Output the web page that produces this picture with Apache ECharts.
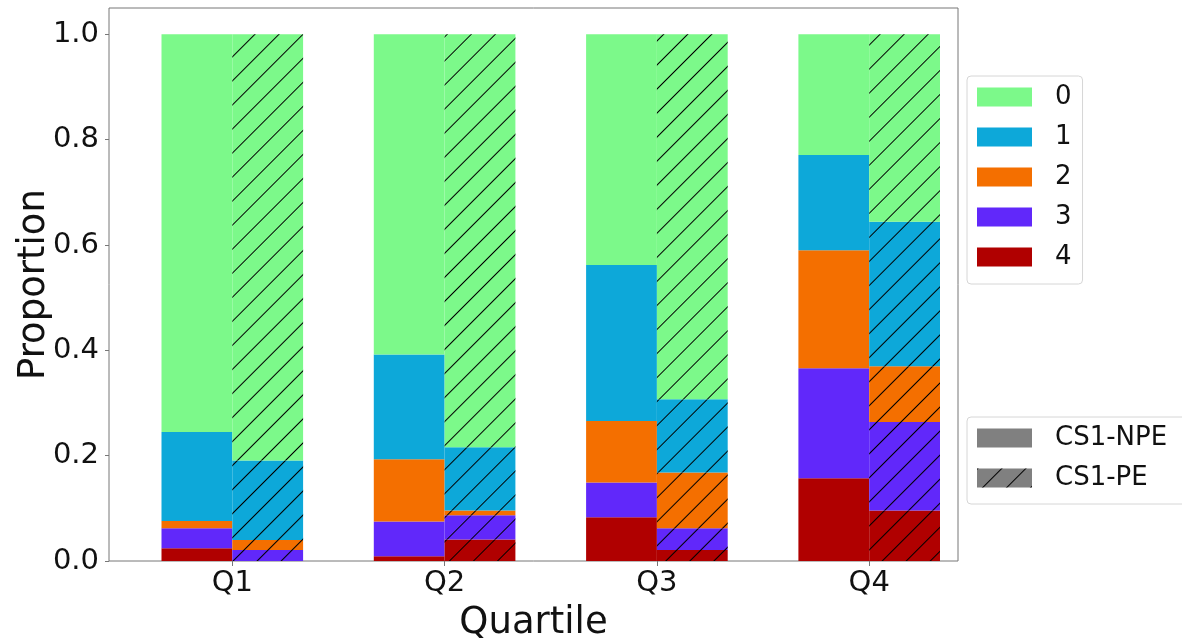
<!DOCTYPE html>
<html>
<head>
<meta charset="utf-8">
<script src="https://cdn.jsdelivr.net/npm/echarts@6/dist/echarts.min.js"></script>
<style>
html,body{margin:0;padding:0;background:#fff;}
#chart{width:1182px;height:642px;}
</style>
</head>
<body>
<div id="chart"></div>
<script>
// ---- data ----
const quartiles = ['Q1', 'Q2', 'Q3', 'Q4'];
const classes = ['0', '1', '2', '3', '4'];
const groups = ['CS1-NPE', 'CS1-PE'];
const yTicks = [0, 0.2, 0.4, 0.6, 0.8, 1.0];

// CS1-NPE proportions per class, Q1..Q4
const npe0 = [0.755, 0.608, 0.438, 0.229];
const npe1 = [0.169, 0.199, 0.296, 0.181];
const npe2 = [0.014, 0.118, 0.117, 0.224];
const npe3 = [0.038, 0.066, 0.066, 0.209];
const npe4 = [0.024, 0.009, 0.083, 0.157];

// CS1-PE proportions per class, Q1..Q4
const pe0 = [0.809, 0.784, 0.693, 0.356];
const pe1 = [0.151, 0.120, 0.139, 0.274];
const pe2 = [0.019, 0.009, 0.106, 0.106];
const pe3 = [0.021, 0.046, 0.041, 0.168];
const pe4 = [0.000, 0.041, 0.021, 0.096];

// ---- styles ----
const classColors = ['#7CF98A', '#0DA8D9', '#F46F00', '#6128FA', '#B00000'];
const FONT = 'DejaVu Sans';
const hatch = {
  symbol: 'rect', symbolSize: 1,
  dashArrayX: [1, 0], dashArrayY: [1, 16],
  rotation: -Math.PI / 4, color: '#000'
};

const npeData = [npe0, npe1, npe2, npe3, npe4];
const peData = [pe0, pe1, pe2, pe3, pe4];

const series = [];
// stack from class 4 (bottom) up to class 0 (top)
for (let c = classes.length - 1; c >= 0; c--) {
  series.push({
    type: 'bar', name: classes[c], stack: 'npe',
    xAxisIndex: 1, yAxisIndex: 1,
    barWidth: 70.8, barGap: 0,
    itemStyle: { color: classColors[c] },
    emphasis: { disabled: true },
    data: npeData[c]
  });
}
for (let c = classes.length - 1; c >= 0; c--) {
  series.push({
    type: 'bar', name: classes[c], stack: 'pe',
    xAxisIndex: 1, yAxisIndex: 1,
    barWidth: 70.8, barGap: 0,
    itemStyle: { color: classColors[c], decal: hatch },
    emphasis: { disabled: true },
    data: peData[c]
  });
}
// legend-only series for the pattern legend
series.push({
  type: 'bar', name: groups[0], xAxisIndex: 0, yAxisIndex: 0,
  itemStyle: { color: '#808080' }, data: []
});
series.push({
  type: 'bar', name: groups[1], xAxisIndex: 0, yAxisIndex: 0,
  itemStyle: { color: '#808080', decal: hatch }, data: []
});

const legendText = {
  fontSize: 26, lineHeight: 26, color: '#111', fontFamily: FONT,
  rich: { t: { fontSize: 26, lineHeight: 26, color: '#111', fontFamily: FONT, padding: [0, 0, 0, 18] } }
};

const chart = echarts.init(document.getElementById('chart'));
chart.setOption({
  animation: false,
  textStyle: { fontFamily: FONT },
  grid: [
    { // frame + y axis
      show: true, left: 109, top: 8, width: 849, height: 553,
      outerBoundsMode: 'none', containLabel: false,
      borderColor: '#777', borderWidth: 1, backgroundColor: 'transparent'
    },
    { // bars, category bands 212.3 px wide
      show: false, left: 126.15, top: 8, width: 849.2, height: 553,
      outerBoundsMode: 'none', containLabel: false
    }
  ],
  legend: [
    {
      data: classes, orient: 'vertical', left: 967, top: 76,
      padding: [8, 11, 14, 10], itemWidth: 55, itemHeight: 19, itemGap: 14,
      icon: 'rect', borderColor: '#d6d6d6', borderWidth: 1, borderRadius: 4,
      formatter: n => '{t|' + n + '}',
      textStyle: legendText,
      selectedMode: false
    },
    {
      data: groups, orient: 'vertical', left: 967, top: 417,
      padding: [8, 20, 13, 10], itemWidth: 55, itemHeight: 19, itemGap: 14,
      icon: 'rect', borderColor: '#d6d6d6', borderWidth: 1, borderRadius: 4,
      formatter: n => '{t|' + n + '}',
      textStyle: legendText,
      selectedMode: false
    }
  ],
  xAxis: [
    {
      gridIndex: 0, type: 'value', min: 0, max: 1,
      name: 'Quartile', nameLocation: 'middle', nameGap: 44, nameMoveOverlap: false,
      nameTextStyle: { fontSize: 37, color: '#111', fontFamily: FONT },
      axisLine: { show: false }, axisTick: { show: false },
      axisLabel: { show: false }, splitLine: { show: false }
    },
    {
      gridIndex: 1, type: 'category', data: quartiles,
      axisLine: { show: false },
      splitLine: { show: false },
      axisTick: { show: true, alignWithLabel: true, length: 5, lineStyle: { color: '#777' } },
      axisLabel: { margin: 8, fontSize: 29, color: '#111', fontFamily: FONT }
    }
  ],
  yAxis: [
    {
      gridIndex: 0, type: 'value', min: 0, max: 1.05,
      name: 'Proportion', nameLocation: 'middle', nameGap: 56, nameMoveOverlap: false,
      nameTextStyle: { fontSize: 37, color: '#111', fontFamily: FONT },
      axisLine: { show: false },
      splitLine: { show: false },
      axisTick: { show: true, length: 4, lineStyle: { color: '#777' }, customValues: yTicks },
      axisLabel: {
        customValues: yTicks, margin: 10, fontSize: 29, color: '#111', fontFamily: FONT,
        formatter: v => v.toFixed(1)
      }
    },
    {
      gridIndex: 1, type: 'value', min: 0, max: 1.05, show: false
    }
  ],
  series: series
});
</script>
</body>
</html>
